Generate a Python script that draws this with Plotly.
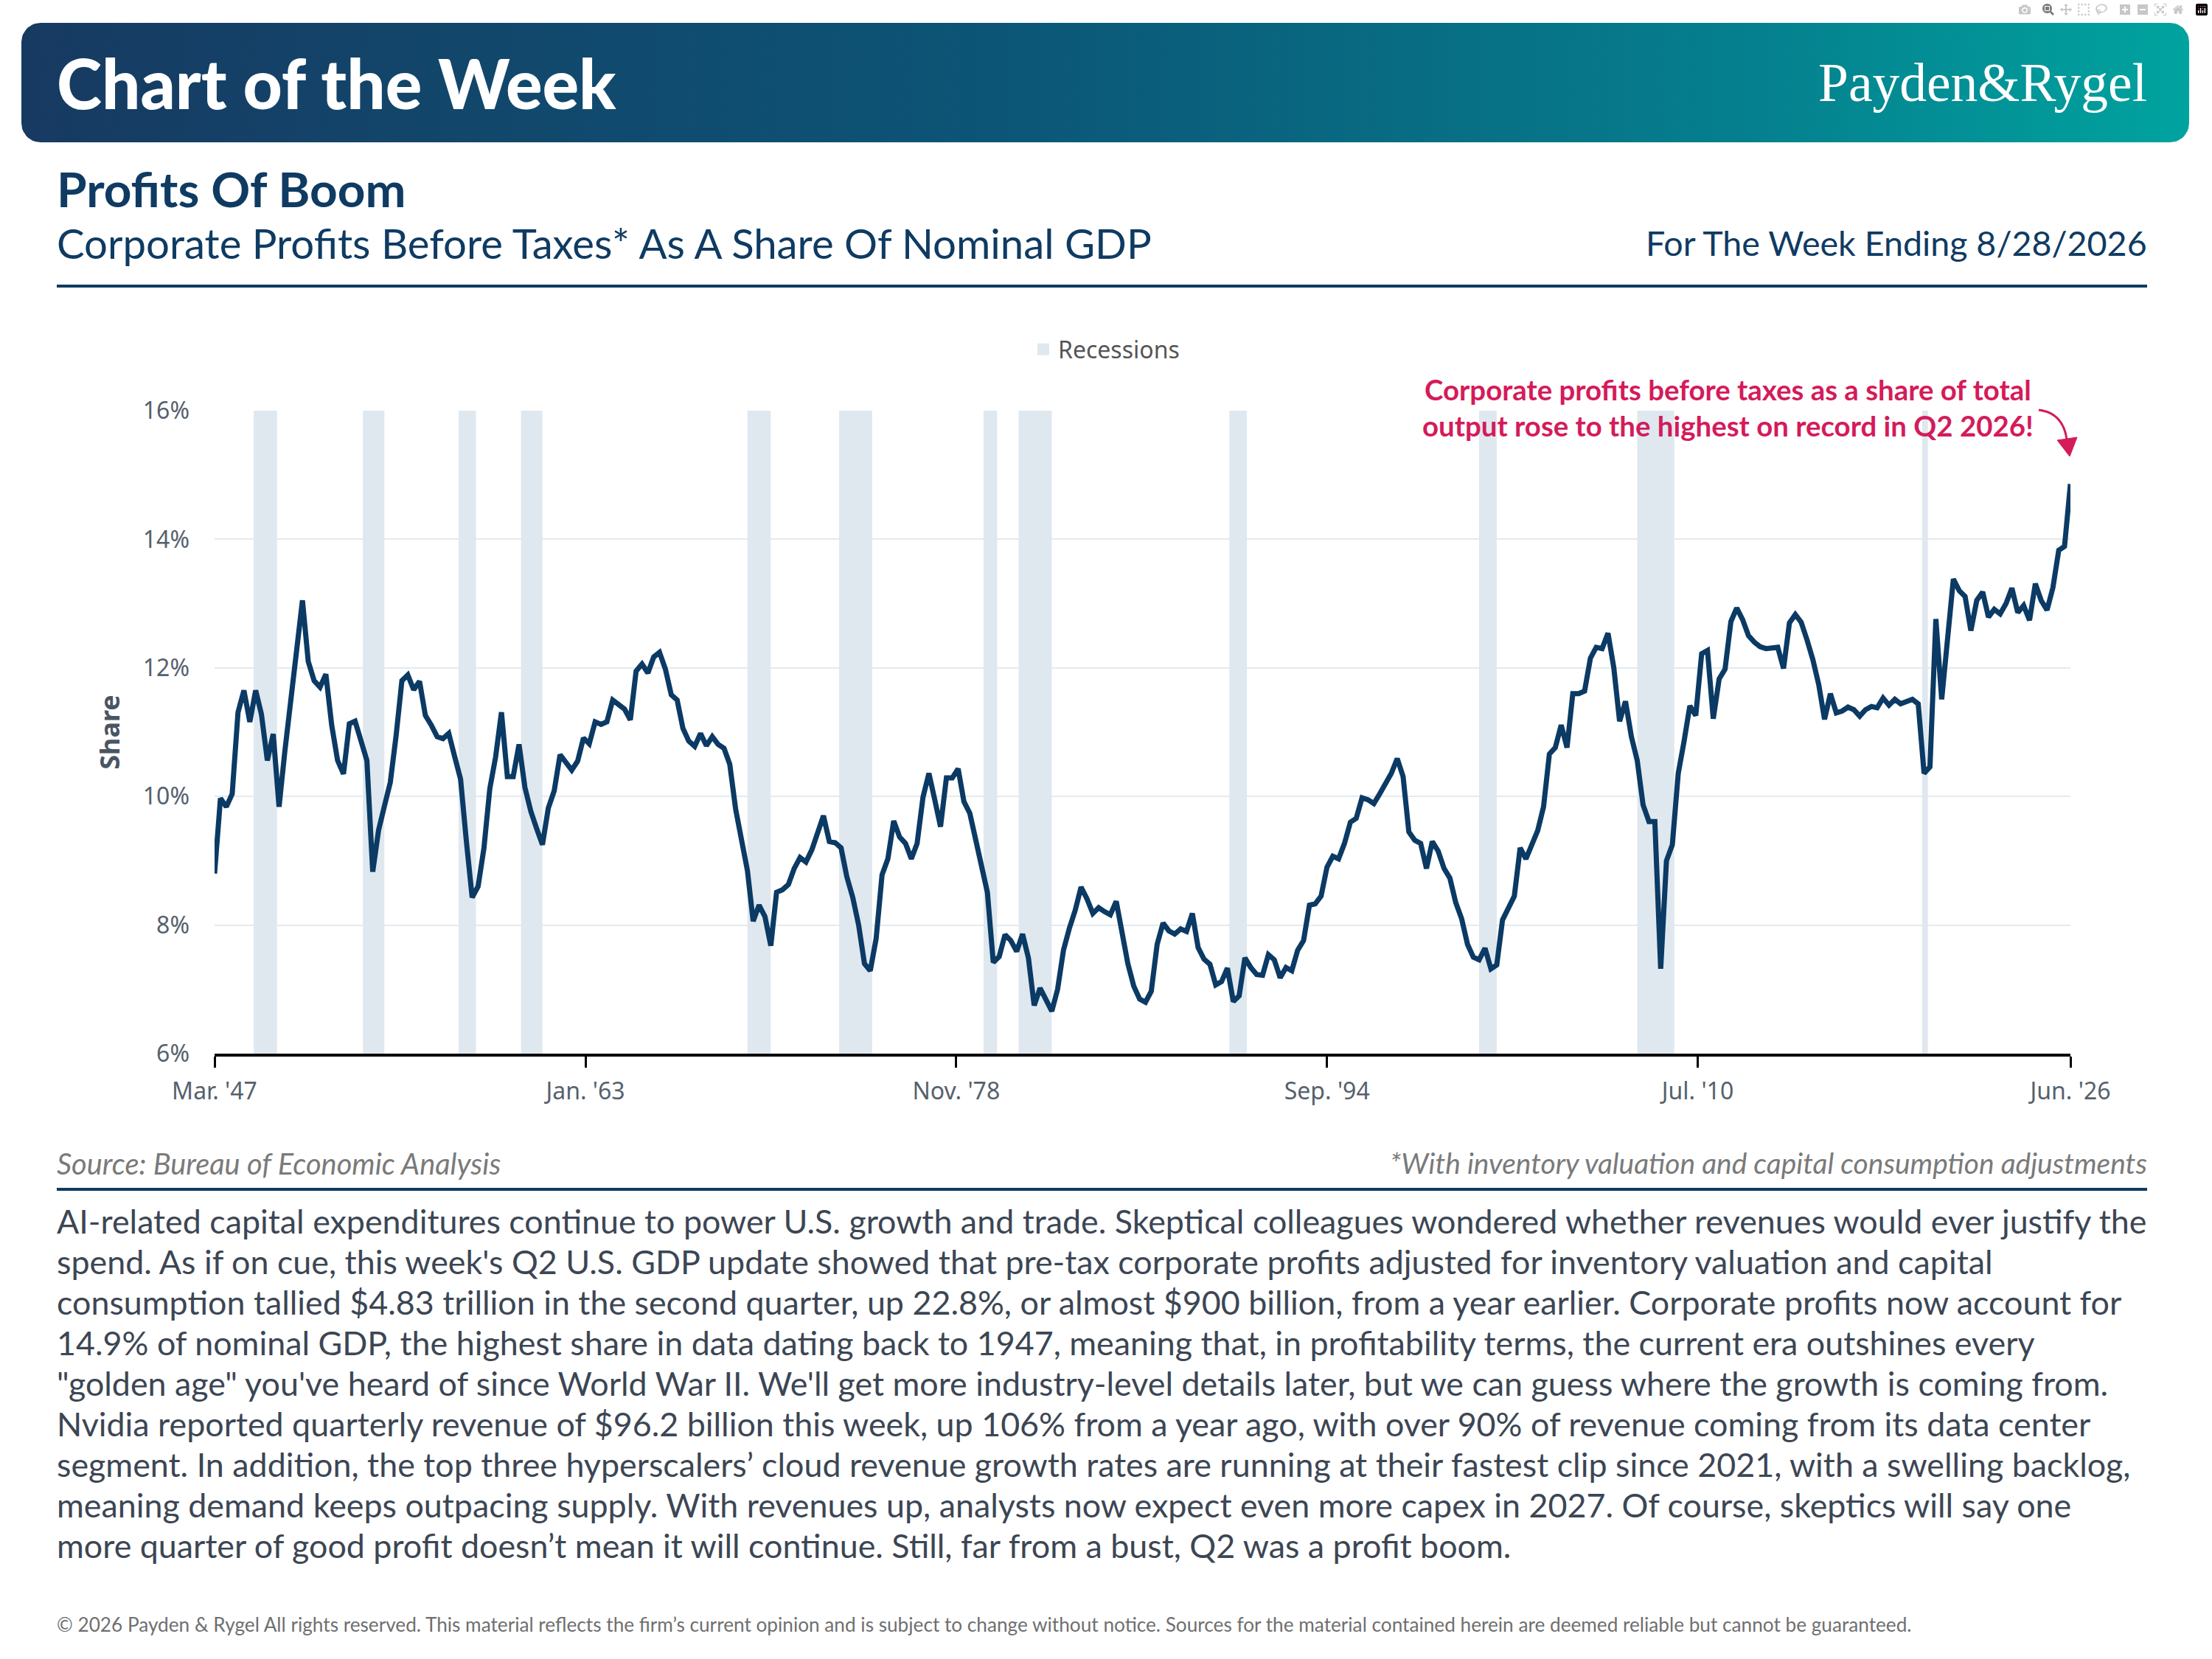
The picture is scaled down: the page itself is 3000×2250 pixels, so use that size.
import numpy as np
import pandas as pd
import plotly.graph_objects as go

W, H = 3000, 2250

# corporate profits before taxes (with IVA & CCAdj) as % of nominal GDP, quarterly from Q1 1947
share = [
    8.80, 9.97, 9.84, 10.04, 11.31, 11.65, 11.16, 11.65, 11.28, 10.56,
    10.97, 9.84, 10.70, 11.50, 12.35, 13.05, 12.10, 11.80, 11.70, 11.90,
    11.11, 10.56, 10.35, 11.13, 11.17, 10.85, 10.56, 8.83, 9.47, 9.85,
    10.22, 10.95, 11.80, 11.89, 11.66, 11.79, 11.26, 11.11, 10.93, 10.90,
    10.98, 10.62, 10.27, 9.30, 8.43, 8.60, 9.20, 10.12, 10.61, 11.31,
    10.31, 10.31, 10.81, 10.14, 9.77, 9.50, 9.25, 9.82, 10.09, 10.65,
    10.53, 10.41, 10.55, 10.91, 10.82, 11.16, 11.12, 11.16, 11.50, 11.42,
    11.36, 11.19, 11.95, 12.06, 11.92, 12.17, 12.24, 11.98, 11.58, 11.50,
    11.06, 10.86, 10.78, 10.98, 10.79, 10.93, 10.81, 10.75, 10.50, 9.80,
    9.35, 8.85, 8.06, 8.31, 8.13, 7.68, 8.51, 8.55, 8.63, 8.88,
    9.05, 8.98, 9.17, 9.42, 9.70, 9.30, 9.28, 9.20, 8.75, 8.43,
    8.00, 7.40, 7.29, 7.79, 8.78, 9.03, 9.62, 9.37, 9.27, 9.03,
    9.27, 9.99, 10.36, 9.95, 9.53, 10.29, 10.29, 10.43, 9.92, 9.74,
    9.30, 8.90, 8.51, 7.42, 7.51, 7.85, 7.76, 7.59, 7.86, 7.49,
    6.75, 7.02, 6.85, 6.66, 7.00, 7.61, 7.95, 8.23, 8.59, 8.41,
    8.18, 8.27, 8.21, 8.16, 8.37, 7.84, 7.40, 7.05, 6.85, 6.80,
    6.97, 7.70, 8.03, 7.91, 7.86, 7.94, 7.90, 8.18, 7.65, 7.47,
    7.39, 7.07, 7.12, 7.33, 6.81, 6.90, 7.49, 7.34, 7.23, 7.22,
    7.54, 7.46, 7.18, 7.34, 7.29, 7.61, 7.76, 8.31, 8.33, 8.45,
    8.90, 9.07, 9.03, 9.27, 9.60, 9.66, 9.98, 9.95, 9.89, 10.04,
    10.21, 10.36, 10.59, 10.31, 9.45, 9.32, 9.27, 8.88, 9.30, 9.15,
    8.88, 8.73, 8.35, 8.10, 7.70, 7.50, 7.46, 7.64, 7.32, 7.38,
    8.08, 8.25, 8.45, 9.20, 9.03, 9.25, 9.47, 9.84, 10.66, 10.76,
    11.11, 10.76, 11.60, 11.60, 11.64, 12.15, 12.32, 12.30, 12.54, 12.00,
    11.17, 11.48, 10.93, 10.56, 9.87, 9.61, 9.61, 7.32, 9.00, 9.25,
    10.36, 10.86, 11.41, 11.26, 12.22, 12.27, 11.21, 11.83, 11.98, 12.72,
    12.93, 12.75, 12.50, 12.40, 12.33, 12.30, 12.32, 12.32, 11.99, 12.70,
    12.83, 12.71, 12.44, 12.13, 11.74, 11.20, 11.60, 11.30, 11.33, 11.39,
    11.35, 11.25, 11.35, 11.40, 11.38, 11.53, 11.42, 11.51, 11.44, 11.48,
    11.51, 11.44, 10.36, 10.46, 12.76, 11.51, 12.41, 13.38, 13.20, 13.11,
    12.58, 13.05, 13.18, 12.79, 12.91, 12.84, 13.00, 13.24, 12.86, 12.97,
    12.74, 13.31, 13.05, 12.90, 13.25, 13.83, 13.89, 14.86,
]
dates = pd.date_range("1947-03-01", periods=len(share), freq="3MS")

# NBER recessions
rec_start = ["1948-11-01", "1953-07-01", "1957-08-01", "1960-04-01", "1969-12-01", "1973-11-01",
             "1980-01-01", "1981-07-01", "1990-07-01", "2001-03-01", "2007-12-01", "2020-02-01"]
rec_end = ["1949-10-31", "1954-05-31", "1958-04-30", "1961-02-28", "1970-11-30", "1975-03-31",
           "1980-07-31", "1982-11-30", "1991-03-31", "2001-11-30", "2009-06-30", "2020-04-30"]

tick_dates = ["1947-03-01", "1963-01-01", "1978-11-01", "1994-09-01", "2010-07-01", "2026-06-01"]
tick_text = ["Mar. '47", "Jan. '63", "Nov. '78", "Sep. '94", "Jul. '10", "Jun. '26"]

body_lines = [
    "AI-related capital expenditures continue to power U.S. growth and trade. Skeptical colleagues wondered whether revenues would ever justify the",
    "spend. As if on cue, this week's Q2 U.S. GDP update showed that pre-tax corporate profits adjusted for inventory valuation and capital",
    "consumption tallied $4.83 trillion in the second quarter, up 22.8%, or almost $900 billion, from a year earlier. Corporate profits now account for",
    "14.9% of nominal GDP, the highest share in data dating back to 1947, meaning that, in profitability terms, the current era outshines every",
    "\"golden age\" you've heard of since World War II. We'll get more industry-level details later, but we can guess where the growth is coming from.",
    "Nvidia reported quarterly revenue of $96.2 billion this week, up 106% from a year ago, with over 90% of revenue coming from its data center",
    "segment. In addition, the top three hyperscalers\u2019 cloud revenue growth rates are running at their fastest clip since 2021, with a swelling backlog,",
    "meaning demand keeps outpacing supply. With revenues up, analysts now expect even more capex in 2027. Of course, skeptics will say one",
    "more quarter of good profit doesn\u2019t mean it will continue. Still, far from a bust, Q2 was a profit boom.",
]

NAVY = "#0f3b63"
LINE = "#0b3a64"
REC = "#dfe8ef"
PINK = "#d41b5b"
GREY = "#56616c"


def px(x):
    return x / W


def py(y):
    return 1 - y / H


fig = go.Figure()

# recession bands as bars spanning 6%..16%
s = pd.to_datetime(rec_start)
e = pd.to_datetime(rec_end)
mid = s + (e - s) / 2
widths = [(b - a).total_seconds() * 1000 for a, b in zip(s, e)]
fig.add_trace(go.Bar(x=mid, y=[10] * len(mid), base=6, width=widths,
                     marker=dict(color=REC, line_width=0), name="Recessions",
                     showlegend=False, hoverinfo="skip"))
# legend entry for the bands
fig.add_trace(go.Scatter(x=[None], y=[None], mode="markers", name="Recessions",
                         marker=dict(symbol="square", size=16, color=REC)))

fig.add_trace(go.Scatter(x=dates, y=share, mode="lines", line=dict(color=LINE, width=7),
                         name="Share", showlegend=False))

# header banner (rounded rectangle with gradient) on a pixel-unit overlay axis
x0, x1, y0, y1, r = 29, 2969, 31, 193, 26
pts = []
for cx, cy, a0 in [(x1 - r, y0 + r, -90), (x1 - r, y1 - r, 0), (x0 + r, y1 - r, 90), (x0 + r, y0 + r, 180)]:
    for a in np.linspace(a0, a0 + 90, 12):
        pts.append((cx + r * np.cos(np.radians(a)), cy + r * np.sin(np.radians(a))))
pts.append(pts[0])
fig.add_trace(go.Scatter(x=[p[0] for p in pts], y=[p[1] for p in pts], xaxis="x2", yaxis="y2",
                         mode="lines", line=dict(width=0), fill="toself",
                         fillgradient=dict(type="horizontal",
                                           colorscale=[[0, "#173a62"], [0.45, "#0c5576"],
                                                       [0.8, "#05808e"], [1, "#00a39f"]]),
                         showlegend=False, hoverinfo="skip"))

fig.update_layout(
    width=W, height=H, margin=dict(l=0, r=0, t=0, b=0, autoexpand=False),
    paper_bgcolor="white", plot_bgcolor="rgba(0,0,0,0)",
    font=dict(family="Lato", color=GREY),
    barmode="overlay",
    xaxis=dict(type="date", domain=[px(291), px(2808)], anchor="y", automargin=False,
               range=["1947-03-01", "2026-06-01"],
               tickmode="array", tickvals=tick_dates, ticktext=tick_text,
               ticks="outside", ticklen=15, tickwidth=3, tickcolor="black",
               showline=True, linecolor="black", linewidth=4, showgrid=False,
               ticklabelstandoff=5,
               tickfont=dict(family="Noto Sans", size=32, color=GREY)),
    yaxis=dict(domain=[py(1429), py(557)], anchor="x", range=[6, 16], dtick=2, automargin=False,
               ticksuffix="%", showgrid=True, gridcolor="#e4eaf0", gridwidth=2,
               zeroline=False, showline=False, ticklabelstandoff=33,
               tickfont=dict(family="Noto Sans", size=32, color=GREY),
               title=dict(text="<b>Share</b>", standoff=20,
                          font=dict(family="Noto Sans", size=36, color="#4a5563"))),
    xaxis2=dict(domain=[0, 1], range=[0, W], visible=False, anchor="y2", fixedrange=True,
                automargin=False),
    yaxis2=dict(domain=[0, 1], range=[H, 0], visible=False, anchor="x2", fixedrange=True,
                automargin=False),
    legend=dict(orientation="h", x=0.5, xanchor="center", y=py(474), yanchor="middle",
                font=dict(family="Noto Sans", size=32, color="#555"), itemwidth=30,
                bgcolor="rgba(0,0,0,0)"),
    showlegend=True,
)

ann = []


def txt(t, x, y, size, color, xanchor="left", family="Lato", weight=None, italic=False):
    f = dict(family=family, size=size, color=color)
    if weight:
        f["weight"] = weight
    if italic:
        f["style"] = "italic"
    ann.append(dict(text=t, x=px(x), y=py(y), xref="paper", yref="paper", xanchor=xanchor,
                    yanchor="middle", showarrow=False, font=f))


txt("Chart of the Week", 75, 112, 92.5, "white", weight=900)
txt("Payden&amp;Rygel", 2914, 112, 73.5, "white", xanchor="right", family="Liberation Serif")
txt("Profits Of Boom", 75, 256, 65.7, NAVY, weight=700)
txt("Corporate Profits Before Taxes* As A Share Of Nominal GDP", 75, 329, 56.3, NAVY)
txt("For The Week Ending 8/28/2026", 2914, 329, 46.6, NAVY, xanchor="right")
txt("Corporate profits before taxes as a share of total", 2343, 528, 38.4, PINK, xanchor="center", weight=700)
txt("output rose to the highest on record in Q2 2026!", 2343, 577, 38.4, PINK, xanchor="center", weight=700)
txt("Source: Bureau of Economic Analysis", 75, 1577, 39.8, "#7a7a7a", italic=True)
txt("*With inventory valuation and capital consumption adjustments", 2914, 1577, 38.9, "#7a7a7a",
    xanchor="right", italic=True)
for k, line in enumerate(body_lines):
    txt(line, 75, 1656 + 55 * k, 44.8, "#3c4654")
txt("\u00a9 2026 Payden &amp; Rygel All rights reserved. This material reflects the firm\u2019s current opinion "
    "and is subject to change without notice. Sources for the material contained herein are deemed reliable "
    "but cannot be guaranteed.", 75, 2203, 26.2, "#6f6f6f")
fig.update_layout(annotations=ann)

# rules
shapes = [
    dict(type="line", xref="paper", yref="paper", x0=px(77), x1=px(2912), y0=py(388), y1=py(388),
         line=dict(color=NAVY, width=4)),
    dict(type="line", xref="paper", yref="paper", x0=px(77), x1=px(2912), y0=py(1613), y1=py(1613),
         line=dict(color=NAVY, width=4)),
    # curved arrow towards the latest reading
    dict(type="path", xref="paper", yref="paper",
         path=f"M {px(2765)},{py(556)} Q {px(2798)},{py(560)} {px(2803)},{py(596)}",
         line=dict(color=PINK, width=3)),
    dict(type="path", xref="paper", yref="paper", fillcolor=PINK,
         path=f"M {px(2790)},{py(597)} L {px(2817)},{py(593)} L {px(2807)},{py(619)} Z",
         line=dict(color=PINK, width=1)),
]
fig.update_layout(shapes=shapes)

fig.write_html("out.html", post_script="document.body.style.margin='0';")
